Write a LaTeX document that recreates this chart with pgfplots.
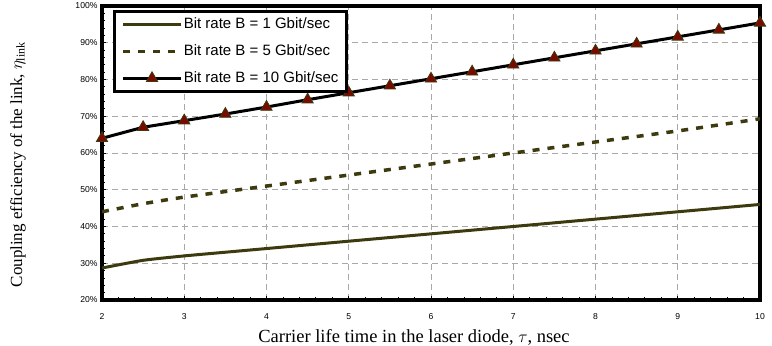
\documentclass[border=0pt]{standalone}
\usepackage{pgfplots}
\pgfplotsset{compat=1.18}
\usepackage{fontspec}
\setmainfont{Liberation Serif}
\newfontfamily\arial{Liberation Sans}

\definecolor{olive}{HTML}{3C3A0E}
\definecolor{markred}{HTML}{7A0A00}
\definecolor{gridgray}{HTML}{A8A8A8}

\pgfplotstableread{
x     y
2     28.7
2.5   30.8
3     32.0
3.5   33.0
4     34.0
5     36.0
6     38.0
7     40.0
8     42.0
9     44.0
10    46.0
}\rateone

\pgfplotstableread{
x     y
2     44.0
2.5   46.2
3     48.0
4     51.0
5     54.0
6     57.0
7     60.0
8     63.0
9     66.0
10    69.3
}\ratefive

\pgfplotstableread{
x     y
2     64.0
2.5   67.0
3     68.8
3.5   70.6
4     72.5
4.5   74.5
5     76.4
5.5   78.3
6     80.2
6.5   82.1
7     84.0
7.5   85.9
8     87.8
8.5   89.7
9     91.6
9.5   93.5
10    95.4
}\rateten

\begin{document}
\begin{tikzpicture}
\begin{axis}[
  scale only axis,
  width=658pt, height=294pt,
  xmin=2, xmax=10, ymin=20, ymax=100,
  xtick={2,3,...,10}, ytick={20,30,...,100},
  minor x tick num=4, minor y tick num=4,
  tick align=inside,
  xtick pos=left, ytick pos=left,
  major tick length=4pt, minor tick length=3pt,
  every tick/.style={black, line width=0.8pt},
  axis line style={line width=3.5pt, black},
  grid=major,
  major grid style={gridgray, dash pattern=on 6pt off 4pt, line width=0.8pt},
  /pgf/number format/assume math mode=true,
  ticklabel style={font=\arial\fontsize{8.6}{10}\selectfont},
  yticklabel={\pgfmathprintnumber{\tick}\%},
  xticklabel style={yshift=-10pt},
  yticklabel style={xshift=-1pt},
  xlabel={Carrier life time in the laser diode, $\tau$, nsec},
  ylabel={Coupling efficiency of the link, $\eta_{\mathrm{link}}$},
  xlabel style={font=\fontsize{18.5}{21}\selectfont,
    at={(axis description cs:0.5,0)}, anchor=north, yshift=-26pt, xshift=-17pt},
  ylabel style={font=\fontsize{17}{20}\selectfont,
    at={(axis description cs:-0.1277,0.46)}, anchor=center},
  legend cell align=left,
  legend style={
    at={(axis description cs:0.016,0.988)}, anchor=north west,
    draw=black, line width=3.5pt,
    font=\arial\fontsize{15}{17}\selectfont,
    inner xsep=7pt, inner ysep=6pt,
    row sep=13pt,
    nodes={inner xsep=1pt, inner ysep=0pt, text height=11pt, text depth=3pt},
  },
  legend image code/.code={
    \draw[mark repeat=2, mark phase=2, #1] plot coordinates {(0pt,0pt) (29pt,0pt) (58pt,0pt)};
  },
]
\addplot[olive, line width=3pt, smooth, tension=0.3] table[x=x, y=y] {\rateone};
\addlegendentry{Bit rate B = 1 Gbit/sec}
\addplot[olive, line width=3.5pt, dash pattern=on 7pt off 8pt, smooth, tension=0.3] table[x=x, y=y] {\ratefive};
\addlegendentry{Bit rate B = 5 Gbit/sec}
\addplot[black, line width=3pt, mark=triangle*, mark size=6.5pt,
  mark options={fill=markred, draw=olive, line width=0.8pt, solid}] table[x=x, y=y] {\rateten};
\addlegendentry{Bit rate B = 10 Gbit/sec}
\end{axis}
\pgfresetboundingbox
\path (current axis.south west) ++(-102pt,-46pt) coordinate (bbsw);
\path (current axis.north east) ++(12pt,6pt) coordinate (bbne);
\useasboundingbox (bbsw) rectangle (bbne);
\end{tikzpicture}
\end{document}
